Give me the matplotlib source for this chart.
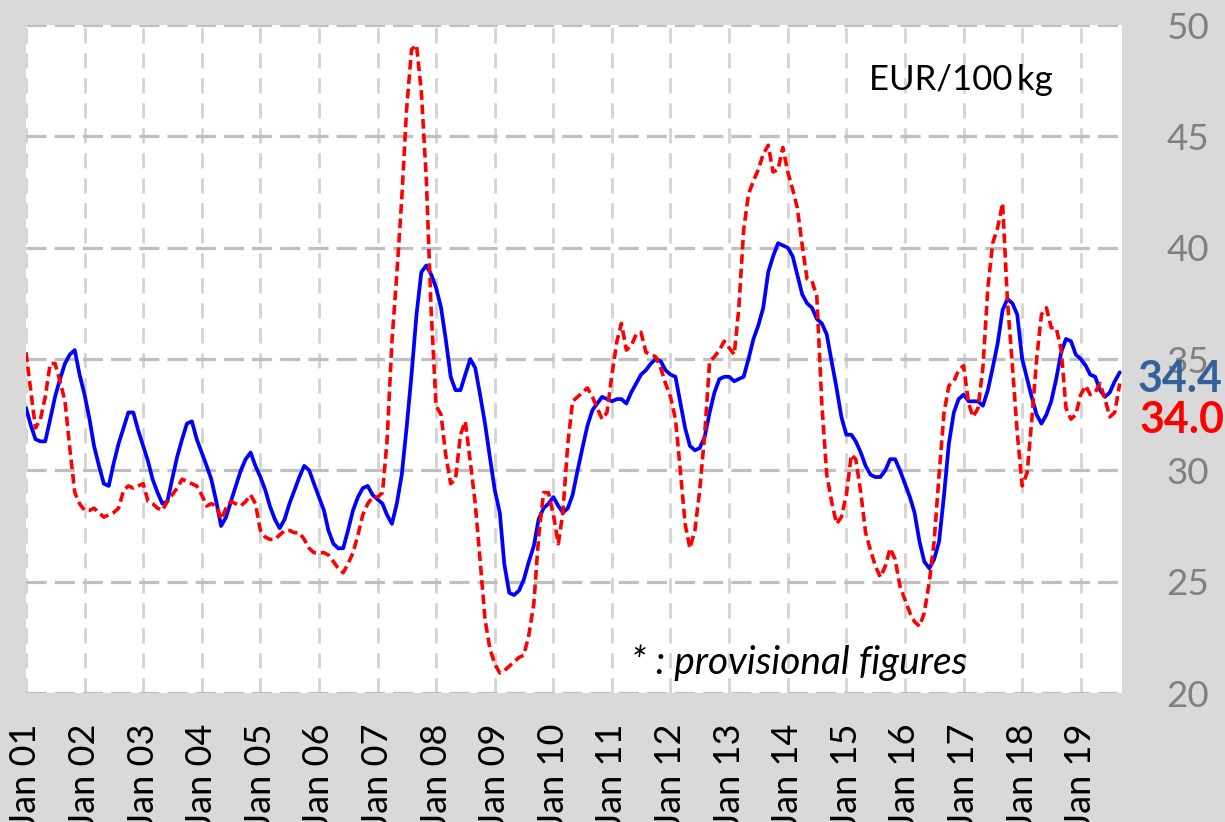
import matplotlib
matplotlib.use("Agg")
import matplotlib.pyplot as plt
import matplotlib.dates as mdates
import pandas as pd

# monthly prices, EUR/100 kg, Jan 2001 .. Sep 2019
months = pd.date_range("2001-01-01", periods=225, freq="MS")

blue = [
    32.8, 32.0, 31.4, 31.3, 31.3, 32.3, 33.3, 34.1, 34.8, 35.2, 35.4, 34.3,
    33.4, 32.3, 31.1, 30.2, 29.4, 29.3, 30.3, 31.2, 31.9, 32.6, 32.6, 31.8,
    31.1, 30.4, 29.6, 29.0, 28.5, 28.6, 29.6, 30.6, 31.4, 32.1, 32.2, 31.4,
    30.8, 30.2, 29.6, 28.6, 27.5, 27.9, 28.6, 29.3, 30.0, 30.5, 30.8, 30.2,
    29.7, 29.1, 28.4, 27.8, 27.4, 27.8, 28.5, 29.1, 29.7, 30.2, 30.0, 29.4,
    28.8, 28.2, 27.3, 26.7, 26.5, 26.5, 27.3, 28.2, 28.8, 29.2, 29.3, 28.9,
    28.7, 28.5, 28.0, 27.6, 28.5, 29.8, 31.9, 34.3, 37.0, 38.9, 39.2, 38.8,
    38.2, 37.3, 35.9, 34.2, 33.6, 33.6, 34.3, 35.0, 34.6, 33.4, 32.1, 30.6,
    29.1, 28.1, 25.8, 24.5, 24.4, 24.6, 25.1, 25.9, 26.6, 27.8, 28.3, 28.5,
    28.8, 28.4, 28.1, 28.3, 28.9, 30.0, 31.0, 32.0, 32.7, 33.0, 33.3, 33.2,
    33.1, 33.2, 33.2, 33.0, 33.5, 33.9, 34.3, 34.5, 34.8, 35.0, 34.9, 34.5,
    34.3, 34.2, 33.1, 31.9, 31.1, 30.9, 31.0, 31.5, 32.6, 33.5, 34.1, 34.2,
    34.2, 34.0, 34.1, 34.2, 35.0, 35.9, 36.5, 37.3, 38.9, 39.6, 40.2, 40.1,
    40.0, 39.6, 38.8, 37.9, 37.5, 37.3, 36.8, 36.6, 36.1, 34.9, 33.7, 32.4,
    31.6, 31.6, 31.3, 30.8, 30.2, 29.8, 29.7, 29.7, 30.0, 30.5, 30.5, 30.0,
    29.4, 28.8, 28.1, 26.8, 25.9, 25.6, 26.0, 26.8, 28.9, 31.2, 32.6, 33.2,
    33.4, 33.1, 33.1, 33.1, 32.9, 33.6, 34.6, 35.7, 37.2, 37.7, 37.5, 37.0,
    35.0, 34.1, 33.3, 32.5, 32.1, 32.5, 33.1, 34.1, 35.3, 35.9, 35.8, 35.2,
    35.0, 34.7, 34.3, 34.2, 33.6, 33.3, 33.5, 34.0, 34.4,
]

red = [
    35.3, 33.5, 31.9, 32.3, 33.3, 34.8, 34.8, 34.0, 33.1, 31.0, 29.0, 28.5,
    28.2, 28.2, 28.3, 28.1, 27.9, 28.0, 28.1, 28.3, 29.1, 29.3, 29.2, 29.3,
    29.4, 28.6, 28.5, 28.3, 28.2, 28.6, 28.9, 29.2, 29.6, 29.5, 29.4, 29.3,
    28.9, 28.4, 28.5, 28.4, 27.8, 28.3, 28.6, 28.5, 28.4, 28.6, 28.9, 28.5,
    27.3, 27.0, 26.9, 26.9, 27.1, 27.3, 27.3, 27.2, 27.2, 26.9, 26.5, 26.3,
    26.3, 26.3, 26.2, 25.9, 25.6, 25.4, 25.8, 26.3, 27.1, 28.0, 28.5, 28.8,
    28.8, 29.0, 31.3, 35.8, 38.8, 42.2, 46.2, 48.9, 49.1, 47.0, 43.1, 37.2,
    32.9, 32.5, 30.7, 29.4, 29.6, 31.6, 32.2, 30.4, 28.5, 26.0, 23.3, 22.0,
    21.3, 20.9, 21.0, 21.2, 21.4, 21.6, 21.7, 22.6, 24.0, 27.0, 29.0, 29.0,
    28.0, 26.7, 28.1, 31.2, 33.1, 33.3, 33.5, 33.7, 33.3, 32.8, 32.3, 32.6,
    34.3, 35.8, 36.6, 35.4, 35.6, 36.1, 36.2, 35.3, 35.2, 35.1, 34.6, 33.9,
    33.3, 32.3, 30.1, 27.6, 26.5, 27.3, 29.1, 31.6, 34.9, 35.1, 35.4, 35.8,
    35.5, 35.2, 37.2, 40.8, 42.4, 43.0, 43.5, 44.2, 44.6, 43.4, 43.5, 44.5,
    43.4, 42.6, 41.8, 40.1, 38.6, 38.5, 37.8, 33.0, 29.8, 28.6, 27.6, 27.9,
    28.9, 30.7, 30.5, 29.0, 27.2, 26.4, 25.7, 25.2, 25.7, 26.5, 26.0, 24.8,
    24.2, 23.6, 23.2, 23.0, 23.6, 25.0, 26.8, 29.8, 32.6, 33.8, 34.0, 34.5,
    34.7, 33.0, 32.4, 32.8, 34.6, 38.2, 40.2, 40.9, 42.0, 37.6, 34.7, 31.7,
    29.3, 29.9, 32.2, 35.0, 37.0, 37.3, 36.4, 36.4, 35.4, 32.8, 32.3, 32.5,
    33.4, 33.8, 33.4, 33.5, 33.9, 33.2, 32.4, 32.6, 33.9,
]

last_blue = "34.4"
last_red = "34.0"
unit_label = "EUR/100\u2009kg"
note = "* : provisional figures"
yticks = [20, 25, 30, 35, 40, 45, 50]

plt.rcParams["font.family"] = ["Lato", "DejaVu Sans"]
plt.rcParams["lines.scale_dashes"] = False

fig = plt.figure(figsize=(12.25, 8.22), dpi=100, facecolor="#d9d9d9")
ax = fig.add_axes([0.02122, 0.15693, 0.89469, 0.81265])
ax.set_facecolor("white")

ax.plot(months, blue, color="#0000ff", lw=2.7, solid_joinstyle="round",
        solid_capstyle="round", zorder=3)
ax.plot(months, red, color="#ff0000", lw=2.6, ls=(0, (7, 3.4)), zorder=3)

ax.set_ylim(20, 50)
ax.set_xlim(pd.Timestamp("2001-01-01"), pd.Timestamp("2019-09-15"))
ax.set_yticks(yticks)

ax.xaxis.set_major_locator(mdates.YearLocator())
ax.xaxis.set_major_formatter(mdates.DateFormatter("%b %y"))

# grids
ax.grid(axis="y", color="#bfbfbf", lw=2.3, ls=(0, (14.5, 5.8)))
ax.grid(axis="x", color="#d3d3d3", lw=2.0, ls=(0, (11, 7)))
ax.set_axisbelow(True)

for s in ax.spines.values():
    s.set_visible(False)

ax.yaxis.tick_right()
ax.tick_params(axis="y", length=0, pad=32, labelsize=26.5, labelcolor="#808080")
ax.tick_params(axis="x", length=0, pad=22, labelsize=26, labelcolor="black",
               labelrotation=90)
for lab in ax.get_yticklabels():
    lab.set_horizontalalignment("left")

ax.text(0.853, 0.918, unit_label, transform=ax.transAxes, ha="center",
        va="center", fontsize=25, color="black")
ax.text(0.705, 0.045, note, transform=ax.transAxes, ha="center", va="center",
        fontsize=28, style="italic", color="black")

fig.text(0.929, 0.539, last_blue, ha="left", va="center", fontsize=31,
         fontweight="bold", color="#35619a")
fig.text(0.9306, 0.489, last_red, ha="left", va="center", fontsize=31,
         fontweight="bold", color="#ff0000")

fig.savefig("out.png", dpi=100, facecolor=fig.get_facecolor())
